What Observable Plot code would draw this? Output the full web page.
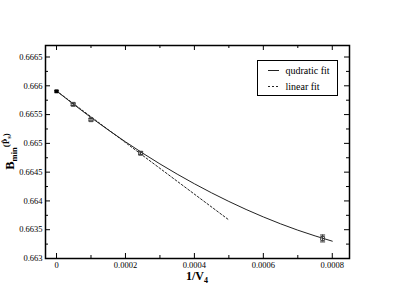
<!DOCTYPE html>
<html>
<head>
<meta charset="utf-8">
<script src="https://cdn.jsdelivr.net/npm/d3@7"></script>
<script src="https://cdn.jsdelivr.net/npm/@observablehq/plot@0.6"></script>
<style>
  html, body { margin: 0; padding: 0; background: #fff; }
  #chart svg { display: block; }
</style>
</head>
<body>
<div id="chart"></div>
<script>
// ---- data ----
const pointX   = [0, 0.0000482, 0.0001, 0.000244, 0.000772];
const pointY   = [0.665904, 0.665678, 0.665411, 0.664829, 0.663348];
const pointErr = [0.000012, 0.00002, 0.00002, 0.000025, 0.00006];

// quadratic fit curve
const quadX = [0, 0.0001, 0.0002, 0.0003, 0.0004, 0.0005, 0.0006, 0.0007, 0.0008];
const quadY = [0.665910, 0.665449, 0.665027, 0.664643, 0.664298, 0.663991, 0.663722, 0.663492, 0.663301];

// linear fit line
const linX = [0, 0.0005];
const linY = [0.66591, 0.66367];

const xMajor = [0, 0.0002, 0.0004, 0.0006, 0.0008];
const xMinor = [0.0001, 0.0003, 0.0005, 0.0007];
const xLabels = ["0", "0.0002", "0.0004", "0.0006", "0.0008"];
const yMajor = [0.663, 0.6635, 0.664, 0.6645, 0.665, 0.6655, 0.666, 0.6665];
const yMinor = [0.66325, 0.66375, 0.66425, 0.66475, 0.66525, 0.66575, 0.66625];
const yLabels = ["0.663", "0.6635", "0.664", "0.6645", "0.665", "0.6655", "0.666", "0.6665"];

const seriesNames = ["qudratic fit", "linear fit"];

// ---- build tables ----
const points = pointX.map((x, i) => ({x, y: pointY[i], e: pointErr[i], i}));
const quad = quadX.map((x, i) => ({x, y: quadY[i]}));
const lin = linX.map((x, i) => ({x, y: linY[i]}));

const W = 393, H = 304;
const mL = 45, mR = 44, mT = 45, mB = 46;
const pw = W - mL - mR, ph = H - mT - mB;
const font = "'Liberation Serif', 'DejaVu Serif', serif";

const capSymbol = {
  draw(ctx, size) {
    const r = 2.5;
    ctx.moveTo(-r, 0); ctx.lineTo(r, 0);
  }
};

const plot = Plot.plot({
  width: W, height: H,
  marginLeft: mL, marginRight: mR, marginTop: mT, marginBottom: mB,
  style: {fontFamily: font, background: "#fff"},
  x: {domain: [-0.000032, 0.00085], label: null},
  y: {domain: [0.663, 0.6667], label: null},
  marks: [
    // fits
    Plot.line(quad, {x: "x", y: "y", stroke: "#222", strokeWidth: 1, curve: "monotone-x"}),
    Plot.line(lin, {x: "x", y: "y", stroke: "#222", strokeWidth: 1, strokeDasharray: "2,2"}),
    // error bars
    Plot.ruleX(points, {x: "x", y1: d => d.y - d.e, y2: d => d.y + d.e, stroke: "#333", strokeWidth: 1}),
    Plot.dot(points, {x: "x", y: d => d.y - d.e, symbol: capSymbol, stroke: "#333", strokeWidth: 1, r: 3}),
    Plot.dot(points, {x: "x", y: d => d.y + d.e, symbol: capSymbol, stroke: "#333", strokeWidth: 1, r: 3}),
    // markers
    Plot.dot(points.filter(d => d.i === 0), {x: "x", y: "y", symbol: "square", fill: "#000", r: 2.2}),
    Plot.dot(points.filter(d => d.i !== 0), {x: "x", y: "y", symbol: "square", fill: "none", stroke: "#444", strokeWidth: 1, r: 2.2}),
    // inward ticks (all four sides)
    Plot.ruleX(xMajor, {x: d => d, insetTop: ph - 5, stroke: "#000", strokeWidth: 1}),
    Plot.ruleX(xMajor, {x: d => d, insetBottom: ph - 5, stroke: "#000", strokeWidth: 1}),
    Plot.ruleX(xMinor, {x: d => d, insetTop: ph - 3, stroke: "#000", strokeWidth: 1}),
    Plot.ruleX(xMinor, {x: d => d, insetBottom: ph - 3, stroke: "#000", strokeWidth: 1}),
    Plot.ruleY(yMajor, {y: d => d, insetRight: pw - 5, stroke: "#000", strokeWidth: 1}),
    Plot.ruleY(yMajor, {y: d => d, insetLeft: pw - 5, stroke: "#000", strokeWidth: 1}),
    Plot.ruleY(yMinor, {y: d => d, insetRight: pw - 3, stroke: "#000", strokeWidth: 1}),
    Plot.ruleY(yMinor, {y: d => d, insetLeft: pw - 3, stroke: "#000", strokeWidth: 1}),
    // tick labels
    Plot.axisX({ticks: xMajor, tickSize: 0, tickPadding: 3, label: null,
      tickFormat: d => xLabels[xMajor.indexOf(d)], fontSize: 8.5, fill: "#000"}),
    Plot.axisY({ticks: yMajor, tickSize: 0, tickPadding: 3, label: null,
      tickFormat: d => yLabels[yMajor.indexOf(d)], fontSize: 8.5, fill: "#000"}),
    Plot.frame({stroke: "#000", strokeWidth: 1.5})
  ]
});

document.getElementById("chart").appendChild(plot);

// ---- axis titles and legend ----
const svg = d3.select(plot);

// x title: 1/V_4
const xt = svg.append("text")
  .attr("x", mL + pw / 2).attr("y", 280)
  .attr("text-anchor", "middle")
  .attr("font-family", font).attr("font-weight", "bold").attr("font-size", 12)
  .attr("fill", "#000");
xt.append("tspan").text("1/V");
xt.append("tspan").attr("font-size", 8).attr("dy", 3).text("4");

// y title: B_min^(P̂_s)
const yt = svg.append("text")
  .attr("transform", `translate(14,${mT + ph / 2}) rotate(-90)`)
  .attr("text-anchor", "middle")
  .attr("font-family", font).attr("font-weight", "bold").attr("font-size", 12.5)
  .attr("fill", "#000");
yt.append("tspan").text("B");
yt.append("tspan").attr("font-size", 8.5).attr("dy", 3).text("min");
yt.append("tspan").attr("font-size", 9).attr("dy", -8).text("(P\u0302");
yt.append("tspan").attr("font-size", 6.5).attr("dy", 2).text("s");
yt.append("tspan").attr("font-size", 9).attr("dy", -2).text(")");

// legend
const lg = svg.append("g").attr("text-anchor", "start");
lg.append("rect").attr("x", 257.5).attr("y", 60.5).attr("width", 80).attr("height", 35)
  .attr("fill", "#fff").attr("stroke", "#000").attr("stroke-width", 1);
const rows = [{y: 70.5, dash: null}, {y: 86.5, dash: "2,2"}];
rows.forEach((r, i) => {
  lg.append("line").attr("x1", 268).attr("x2", 279).attr("y1", r.y).attr("y2", r.y)
    .attr("stroke", "#222").attr("stroke-width", 1)
    .attr("stroke-dasharray", r.dash);
  lg.append("text").attr("x", 285.5).attr("y", r.y + 3.5)
    .attr("text-anchor", "start")
    .attr("font-family", font).attr("font-size", 10).attr("fill", "#000")
    .text(seriesNames[i]);
});
</script>
</body>
</html>
